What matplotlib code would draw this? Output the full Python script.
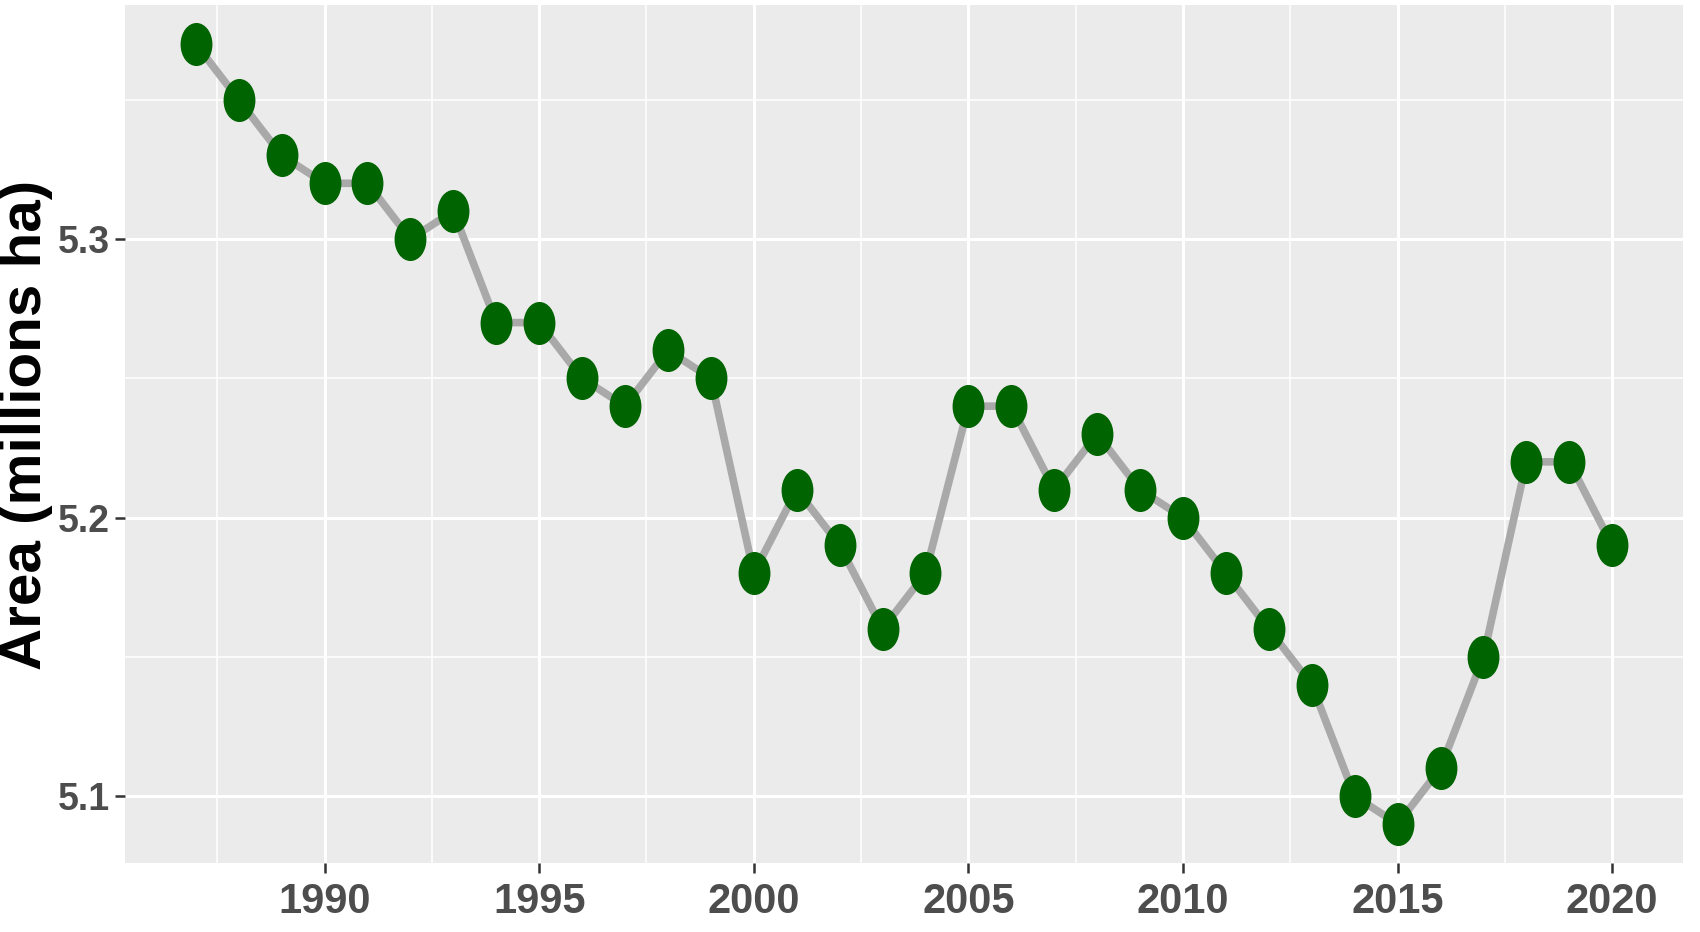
import matplotlib
matplotlib.use("Agg")
import matplotlib.pyplot as plt
from matplotlib.path import Path
from matplotlib.transforms import Affine2D
from matplotlib.ticker import MultipleLocator
import numpy as np

# data
years = list(range(1987, 2021))
area = [5.37, 5.35, 5.33, 5.32, 5.32, 5.30, 5.31, 5.27, 5.27, 5.25,
        5.24, 5.26, 5.25, 5.18, 5.21, 5.19, 5.16, 5.18, 5.24, 5.24,
        5.21, 5.23, 5.21, 5.20, 5.18, 5.16, 5.14, 5.10, 5.09, 5.11,
        5.15, 5.22, 5.22, 5.19]
x_ticks = [1990, 1995, 2000, 2005, 2010, 2015, 2020]
y_ticks = [5.1, 5.2, 5.3]

# the reference is squashed sideways, so points are tall ellipses
ellipse = Path.unit_circle().transformed(Affine2D().scale(0.74, 1.0))

tick_font = ['Liberation Sans', 'DejaVu Sans']
label_font = ['Liberation Sans', 'DejaVu Sans']

fig = plt.figure(figsize=(17, 9.32), dpi=100)
ax = fig.add_axes([125 / 1700, 1 - 863 / 932, (1683 - 125) / 1700, (863 - 5) / 932])

ax.set_facecolor('#EBEBEB')
for s in ax.spines.values():
    s.set_visible(False)

ax.plot(years, area, color='#A9A9A9', lw=5.5, zorder=2)
ax.plot(years, area, linestyle='none', marker=ellipse, markersize=31,
        color='#006400', markeredgewidth=0, zorder=3)

# ggplot-style 5% expansion
xr = max(years) - min(years)
yr = max(area) - min(area)
ax.set_xlim(min(years) - 0.05 * xr, max(years) + 0.05 * xr)
ax.set_ylim(min(area) - 0.05 * yr, max(area) + 0.05 * yr)

ax.set_xticks(x_ticks)
ax.set_yticks(y_ticks)
ax.set_yticklabels([f"{v:.1f}" for v in y_ticks])
ax.xaxis.set_minor_locator(MultipleLocator(2.5))
ax.yaxis.set_minor_locator(MultipleLocator(0.05))
ax.grid(which='major', color='white', lw=2.2, zorder=0)
ax.grid(which='minor', color='white', lw=1.1, zorder=0)
ax.set_axisbelow(True)

ax.tick_params(which='major', length=7, width=1.8, color='#333333',
               labelcolor='#4D4D4D', pad=4)
ax.tick_params(axis='x', labelsize=30, pad=7)
ax.tick_params(axis='y', labelsize=27)
ax.tick_params(which='minor', length=0)
for lab in ax.get_xticklabels() + ax.get_yticklabels():
    lab.set_family(tick_font)
    lab.set_fontweight('bold')

ax.set_ylabel('Area (millions ha)', family=label_font, fontweight='bold',
              fontsize=42, color='black')
ax.yaxis.label.set_va('center')
ax.yaxis.set_label_coords(-0.0635, 0.51)

fig.savefig('out.png', dpi=100)
